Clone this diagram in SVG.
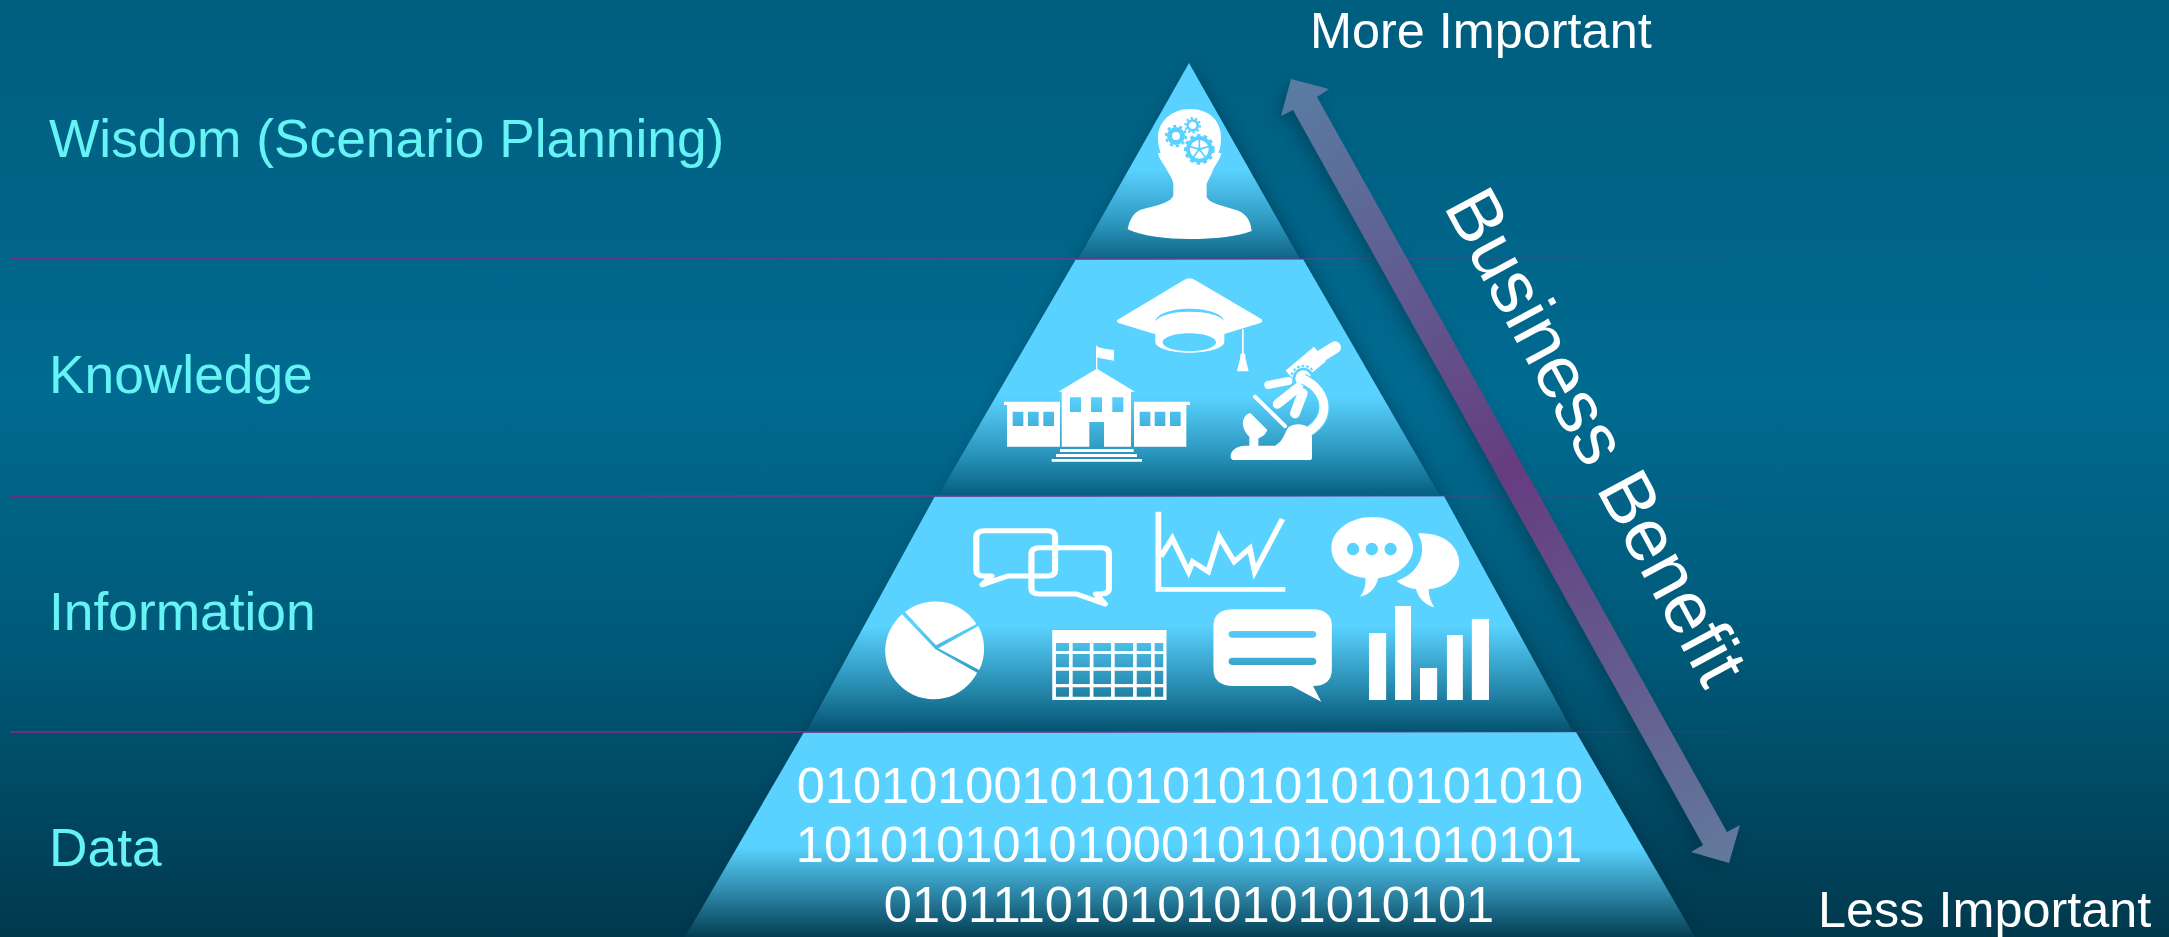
<svg xmlns="http://www.w3.org/2000/svg" width="2169" height="937" viewBox="0 0 2169 937">
<style>
.lab{font-family:"Liberation Sans",Arial,sans-serif;font-size:53.3px;fill:#66F3F5}
.wht{font-family:"Liberation Sans",Arial,sans-serif;fill:#fff}
.imp{font-size:50.4px}
.bin{font-size:50.5px;text-anchor:middle}
.ic{fill:#fff;fill-rule:evenodd}
.ln{stroke:#fff;fill:none}
.blu{fill:#5AD2FF}
.sep{stroke:url(#sepG);stroke-width:2;fill:none}
</style>
<defs>
<linearGradient id="bg" x1="0" y1="0" x2="0" y2="1">
<stop offset="0" stop-color="#005E7F"/><stop offset=".42" stop-color="#006A90"/><stop offset=".7" stop-color="#005978"/><stop offset="1" stop-color="#00394E"/>
</linearGradient>
<linearGradient id="t1" x1="0" y1="0" x2="0" y2="1"><stop offset="0" stop-color="#5AD2FF"/><stop offset=".54" stop-color="#5AD2FF"/><stop offset=".8" stop-color="#2F9BC3"/><stop offset="1" stop-color="#0F6485"/></linearGradient>
<linearGradient id="t2" x1="0" y1="0" x2="0" y2="1"><stop offset="0" stop-color="#5AD2FF"/><stop offset=".58" stop-color="#5AD2FF"/><stop offset=".82" stop-color="#2B95BC"/><stop offset="1" stop-color="#045E80"/></linearGradient>
<linearGradient id="t3" x1="0" y1="0" x2="0" y2="1"><stop offset="0" stop-color="#5AD2FF"/><stop offset=".55" stop-color="#5AD2FF"/><stop offset=".82" stop-color="#2588AC"/><stop offset="1" stop-color="#045270"/></linearGradient>
<linearGradient id="t4" x1="0" y1="0" x2="0" y2="1"><stop offset="0" stop-color="#5AD2FF"/><stop offset=".56" stop-color="#5AD2FF"/><stop offset=".8" stop-color="#2A82A2"/><stop offset="1" stop-color="#033E54"/></linearGradient>
<linearGradient id="arG" gradientUnits="userSpaceOnUse" x1="1291" y1="79" x2="1729" y2="863">
<stop offset="0" stop-color="#5A7DA2"/><stop offset=".5" stop-color="#663C80"/><stop offset="1" stop-color="#62799C"/>
</linearGradient>
<linearGradient id="sepG" gradientUnits="userSpaceOnUse" x1="10" y1="0" x2="1800" y2="0">
<stop offset="0" stop-color="#6B2F80"/><stop offset=".6" stop-color="#6B3A88" stop-opacity=".8"/><stop offset="1" stop-color="#6B3A88" stop-opacity="0"/>
</linearGradient>
<filter id="sh" x="-10%" y="-10%" width="120%" height="120%"><feGaussianBlur stdDeviation="8"/></filter>
</defs>
<rect width="2169" height="937" fill="url(#bg)"/>

<polygon points="1189,63 685,937 1695,937" fill="#002B3E" opacity=".5" filter="url(#sh)" transform="translate(3,4)"/>

<g id="tier-wisdom">
<polygon points="1189,63 1078,259 1300,259" fill="url(#t1)"/>
</g>

<g id="tier-knowledge">
<polygon points="1076,259 1303,259 1440,496 938,496" fill="url(#t2)"/>
<g transform="translate(960,250) scale(.33333)">
<path class="ic" d="M472,210L672,90Q688,80 705,90L905,208Q910,214 903,218L793,252V275C793,295 740,308 688,308C636,308 586,295 586,275V253L478,220Q468,215 472,210ZM688,250C644,250 608,262 608,277C608,292 644,304 688,304C732,304 768,292 768,277C768,262 732,250 688,250ZM586,213C600,195 640,185 688,185C740,185 780,195 792,213C788,190 740,176 688,176C640,176 590,190 586,213Z"/>
<path class="ic" d="M846,238H851V310C856,312 858,318 856,323L866,364H831L841,323C839,318 841,312 846,310Z"/>
<path class="ic" d="M408,287L412,287L412,290C430,297 445,297 462,300V332C445,329 430,328 412,322V357L525,425H513V590H432V516H388V590H305V425H295L408,358ZM330,442V486H363V442ZM393,442V486H426V442ZM457,442V486H490V442Z"/>
<path class="ic" d="M132,455H300V590H141V465H132ZM158,485V528H190V485ZM204,485V528H236V485ZM250,485V528H282V485Z"/>
<path class="ic" d="M522,455H690V465H679V590H522ZM539,485V528H571V485ZM584,485V528H616V485ZM630,485V528H662V485Z"/>
<path class="ic" d="M300,597H521V606H300ZM288,612H531V621H288ZM275,627H546V635H275Z"/>
</g>
<g transform="translate(1220,330) scale(.33333)">
<line x1="215" y1="143" x2="300" y2="72" stroke="#fff" stroke-width="56"/>
<line x1="300" y1="80" x2="345" y2="52" stroke="#fff" stroke-width="36" stroke-linecap="round"/>
<circle cx="250" cy="145" r="32" fill="#5AD2FF"/>
<circle cx="250" cy="145" r="37" fill="none" stroke="#5AD2FF" stroke-width="6" stroke-dasharray="8 6"/>
<circle cx="250" cy="145" r="24" fill="#fff"/>
<line x1="145" y1="165" x2="205" y2="153" stroke="#fff" stroke-width="24" stroke-linecap="round"/>
<line x1="172" y1="222" x2="235" y2="172" stroke="#fff" stroke-width="28" stroke-linecap="round"/>
<line x1="225" y1="250" x2="248" y2="190" stroke="#fff" stroke-width="30" stroke-linecap="round"/>
<path d="M250,148C290,165 312,200 312,232C312,265 295,285 270,302" fill="none" stroke="#5AD2FF" stroke-width="34"/>
<path d="M248,147C290,165 312,200 312,232C312,265 295,285 270,302" fill="none" stroke="#fff" stroke-width="27" stroke-linecap="round"/>
<line x1="105" y1="200" x2="195" y2="288" stroke="#fff" stroke-width="12" stroke-linecap="round"/>
<path class="ic" d="M32,375C35,360 50,348 75,347H88V320C72,305 65,285 70,270C75,255 85,250 92,250L142,300C135,315 128,320 115,325V347H165C190,335 195,305 205,292C225,278 250,280 270,295L276,320V383Q276,390 268,390H40Q30,388 32,375Z"/>
</g>
</g>

<g id="tier-wisdom-icon" transform="translate(1040,50) scale(.33333)">
<path class="ic" d="M450,177C510,177 543,215 543,262C543,285 540,300 535,308L544,310C540,330 525,345 519,360C510,385 500,395 500,405L500,440C505,460 560,470 595,482C625,495 633,520 635,543C590,560 520,567 450,567C380,567 310,560 263,538C268,510 280,490 300,480C340,468 395,460 400,435L400,402C398,385 385,370 378,355C370,340 358,330 354,310L362,308C355,290 354,275 354,262C354,215 395,177 450,177Z"/>
<circle class="blu" cx="408" cy="258" r="27"/><circle cx="408" cy="258" r="30" fill="none" stroke="#5AD2FF" stroke-width="7" stroke-dasharray="9.4 9.4"/><circle cx="408" cy="258" r="12" fill="#fff"/>
<circle class="blu" cx="458" cy="226" r="19"/><circle cx="458" cy="226" r="22" fill="none" stroke="#5AD2FF" stroke-width="6" stroke-dasharray="7 6.8"/><circle cx="458" cy="226" r="11" fill="#fff"/>
<circle cx="478" cy="298" r="34" fill="#fff" stroke="#5AD2FF" stroke-width="12"/><circle cx="478" cy="298" r="42" fill="none" stroke="#5AD2FF" stroke-width="8" stroke-dasharray="11 10"/>
<path d="M478,298V268M478,298L507,289M478,298L496,322M478,298L460,322M478,298L449,289" stroke="#5AD2FF" stroke-width="5" fill="none"/>
<circle class="blu" cx="478" cy="298" r="6"/>
</g>

<g id="tier-information">
<polygon points="935,496 1444,496 1573,732 806,732" fill="url(#t3)"/>
<g transform="translate(860,490) scale(.40816,.33333)">
<path d="M305,122H460Q478,122 478,140V240Q478,258 460,258H362L300,284L322,258H303Q285,258 285,240V140Q285,122 305,122Z" class="ln" stroke-width="15" stroke-linejoin="round"/>
<path d="M440,173H592Q610,173 610,191V295Q610,312 592,312H578L600,342L530,312H438Q420,312 420,295V191Q420,173 440,173Z" class="ln" stroke-width="15" stroke-linejoin="round"/>
<path d="M731,65V298H1042" class="ln" stroke-width="14"/>
<polyline points="737,200 765,145 805,245 815,215 853,245 880,140 917,215 955,175 967,245 1035,87" class="ln" stroke-width="14"/>
<path class="ic" d="M1255,81C1310,81 1355,122 1355,173C1355,222 1315,258 1270,264C1265,290 1250,315 1225,320C1235,305 1240,285 1238,264C1190,258 1155,222 1155,173C1155,122 1200,81 1255,81ZM1208,158C1200,158 1193,167 1193,177C1193,187 1200,196 1208,196C1216,196 1223,187 1223,177C1223,167 1216,158 1208,158ZM1254,158C1246,158 1239,167 1239,177C1239,187 1246,196 1254,196C1262,196 1269,187 1269,177C1269,167 1262,158 1254,158ZM1300,158C1292,158 1285,167 1285,177C1285,187 1292,196 1300,196C1308,196 1315,187 1315,177C1315,167 1308,158 1300,158Z"/>
<path class="ic" d="M1367,130C1430,125 1468,170 1468,217C1468,260 1435,295 1393,297C1393,315 1398,335 1407,352C1385,345 1368,325 1362,297C1345,295 1325,285 1315,273C1355,255 1378,220 1377,175C1377,158 1373,145 1367,130Z"/>
<path class="ic" d="M185,478L103,373A119,145 0 1 0 287,548Z"/>
<path class="ic" d="M186,466L110,366A119,145 0 0 1 285,402Z"/>
<path class="ic" d="M192,475L290,408A119,145 0 0 1 292,540Z"/>
<path class="ic" d="M471,420H751V630H471ZM480,459V483H512V459ZM521,459V483H563V459ZM572,459V483H615V459ZM624,459V483H669V459ZM678,459V483H713V459ZM722,459V483H743V459ZM480,492V532H512V492ZM521,492V532H563V492ZM572,492V532H615V492ZM624,492V532H669V492ZM678,492V532H713V492ZM722,492V532H743V492ZM480,542V582H512V542ZM521,542V582H563V542ZM572,542V582H615V542ZM624,542V582H669V542ZM678,542V582H713V542ZM722,542V582H743V542ZM480,592V620H512V592ZM521,592V620H563V592ZM572,592V620H615V592ZM624,592V620H669V592ZM678,592V620H713V592ZM722,592V620H743V592Z"/>
<path class="ic" d="M916,358H1106Q1156,358 1156,408V538Q1156,588 1110,588L1130,635L1058,588H916Q866,588 866,538V408Q866,358 916,358ZM913,423Q903,423 903,433Q903,443 913,443H1108Q1118,443 1118,433Q1118,423 1108,423ZM913,503Q903,503 903,514Q903,525 913,525H1108Q1118,525 1118,514Q1118,503 1108,503Z"/>
<path class="ic" d="M1247,429H1289V630H1247ZM1311,348H1350V630H1311ZM1372,534H1414V630H1372ZM1438,435H1477V630H1438ZM1499,387H1541V630H1499Z"/>
</g>
</g>

<g id="tier-data">
<polygon points="804,732 1576,732 1695,937 685,937" fill="url(#t4)"/>
<text class="wht bin" x="1190" y="803">0101010010101010101010101010</text>
<text class="wht bin" x="1189" y="862">1010101010100010101001010101</text>
<text class="wht bin" x="1189" y="922">0101110101010101010101</text>
</g>

<g id="labels">
<text id="label-wisdom" class="lab" x="49" y="157">Wisdom (Scenario Planning)</text>
<text id="label-knowledge" class="lab" x="49" y="393">Knowledge</text>
<text id="label-information" class="lab" x="49" y="630">Information</text>
<text id="label-data" class="lab" x="49" y="866">Data</text>
</g>

<g id="connectors">
<path class="sep" d="M10,259H1800M10,496H1800M10,732H1800"/>
<polygon points="1291,79 1329,89 1317,97 1727,832 1740,825 1729,863 1691,852 1703,845 1293,110 1281,116" fill="#002B3E" opacity=".4" filter="url(#sh)" transform="translate(-5,6)"/>
<polygon id="benefit-arrow" points="1291,79 1329,89 1317,97 1727,832 1740,825 1729,863 1691,852 1703,845 1293,110 1281,116" fill="url(#arG)"/>
</g>

<g id="axis-labels">
<text class="wht imp" x="1310" y="48">More Important</text>
<text class="wht imp" x="1818" y="927">Less Important</text>
<text class="wht" font-size="74" transform="translate(1443,206) rotate(61.6)">Business Benefit</text>
</g>
</svg>
